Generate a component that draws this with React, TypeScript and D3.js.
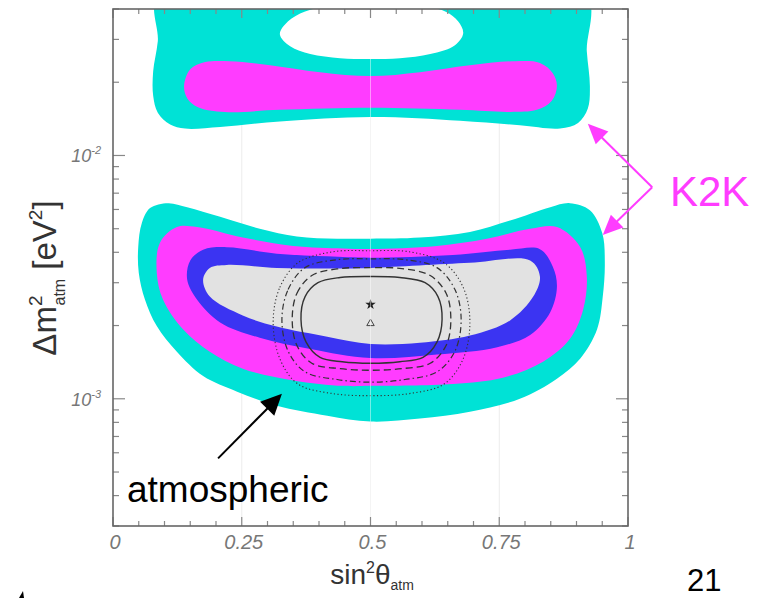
import React from "react";
import * as d3 from "d3";

// x: sin^2(theta_atm); y: Delta m^2_atm in units of 1e-3 eV^2
type P = [number, number];

const atmCyan: P[] = [
  [0.107, 6.37], [0.144, 6.13], [0.208, 5.6], [0.285, 5.0], [0.357, 4.65], [0.435, 4.55],
  [0.5, 4.55], [0.596, 4.6], [0.693, 4.85], [0.771, 5.4], [0.849, 6.13], [0.887, 6.37],
  [0.926, 5.96], [0.95, 4.8], [0.955, 3.62], [0.951, 2.63], [0.94, 1.93], [0.907, 1.46],
  [0.862, 1.21], [0.79, 1.0], [0.693, 0.885], [0.596, 0.829], [0.5, 0.806],
  [0.416, 0.852], [0.318, 0.936], [0.241, 1.07], [0.175, 1.24], [0.124, 1.56], [0.085, 1.99],
  [0.062, 2.56], [0.05, 3.3], [0.049, 4.21], [0.056, 5.28], [0.072, 6.08],
];

const atmMagenta: P[] = [
  [0.124, 5.08], [0.163, 5.08], [0.252, 4.6], [0.35, 4.25], [0.447, 4.15], [0.5, 4.13],
  [0.629, 4.25], [0.726, 4.55], [0.81, 5.0], [0.862, 5.08],
  [0.907, 4.21], [0.92, 3.18], [0.913, 2.33], [0.887, 1.76], [0.835, 1.42], [0.757, 1.22],
  [0.66, 1.15], [0.5, 1.13], [0.447, 1.13], [0.35, 1.19], [0.252, 1.33], [0.188, 1.56],
  [0.136, 1.93], [0.097, 2.56], [0.085, 3.3], [0.091, 4.37],
];

const atmBlue: P[] = [
  [0.175, 4.1], [0.221, 4.2], [0.318, 3.95], [0.416, 3.85], [0.5, 3.8], [0.66, 3.9],
  [0.771, 4.1], [0.829, 4.12], [0.854, 3.49], [0.862, 2.89], [0.849, 2.27], [0.81, 1.83],
  [0.746, 1.63], [0.629, 1.52], [0.5, 1.47], [0.383, 1.6], [0.285, 1.78], [0.208, 2.06],
  [0.163, 2.56], [0.144, 3.09], [0.15, 3.7],
];

const atmGray: P[] = [
  [0.175, 3.09], [0.188, 3.45], [0.221, 3.55], [0.318, 3.45], [0.416, 3.43], [0.5, 3.45],
  [0.693, 3.62], [0.81, 3.7], [0.829, 3.18], [0.816, 2.63], [0.771, 2.1], [0.693, 1.82],
  [0.596, 1.7], [0.5, 1.68], [0.416, 1.8], [0.318, 1.98], [0.252, 2.2], [0.188, 2.63],
];

const k2kCyan: P[] = [
  [0.091, 47.2], [0.087, 29.5], [0.078, 22.2], [0.078, 17.6], [0.087, 15.0], [0.111, 13.4],
  [0.14, 12.9], [0.208, 13.1], [0.324, 13.8], [0.5, 14.4], [0.674, 13.9], [0.79, 13.3],
  [0.868, 12.9], [0.903, 13.6], [0.922, 15.6], [0.926, 19.3], [0.92, 26.8], [0.915, 47.2],
];

const k2kHole: P[] = [
  [0.324, 31.5], [0.34, 35.6], [0.373, 39.1], [0.441, 41.7], [0.5, 42.1], [0.577, 41.7],
  [0.645, 39.1], [0.67, 35.6], [0.68, 31.8], [0.664, 28.4], [0.616, 26.1], [0.557, 25.1],
  [0.5, 24.9], [0.441, 25.1], [0.383, 26.1], [0.344, 28.1],
];

const k2kMagenta: P[] = [
  [0.138, 19.3], [0.15, 22.6], [0.179, 24.2], [0.227, 24.4], [0.305, 23.5], [0.402, 22.0],
  [0.5, 21.2], [0.596, 22.0], [0.693, 23.5], [0.781, 24.4], [0.829, 24.0], [0.854, 21.8],
  [0.862, 19.3], [0.852, 16.8], [0.823, 15.4], [0.771, 15.1], [0.674, 15.4], [0.5, 15.7],
  [0.324, 15.4], [0.217, 15.1], [0.165, 15.8], [0.144, 17.2],
];

const cSolid: P[] = [
  [0.365, 2.12], [0.373, 2.63], [0.398, 3.0], [0.441, 3.15], [0.5, 3.18], [0.557, 3.15],
  [0.606, 3.0], [0.631, 2.63], [0.639, 2.12], [0.629, 1.71], [0.602, 1.48], [0.557, 1.42],
  [0.5, 1.4], [0.445, 1.42], [0.402, 1.48], [0.375, 1.71],
];
const cDashed: P[] = [
  [0.348, 2.12], [0.357, 2.71], [0.386, 3.21], [0.441, 3.43], [0.5, 3.46], [0.561, 3.43],
  [0.616, 3.21], [0.647, 2.71], [0.656, 2.12], [0.647, 1.66], [0.616, 1.4], [0.561, 1.33],
  [0.5, 1.31], [0.441, 1.33], [0.386, 1.4], [0.357, 1.66],
];
const cDashDot: P[] = [
  [0.328, 2.12], [0.34, 2.81], [0.373, 3.46], [0.435, 3.73], [0.5, 3.76], [0.567, 3.73],
  [0.629, 3.46], [0.664, 2.81], [0.676, 2.12], [0.664, 1.57], [0.629, 1.29], [0.567, 1.2],
  [0.5, 1.17], [0.435, 1.2], [0.373, 1.29], [0.34, 1.57],
];
const cDotted: P[] = [
  [0.311, 2.08], [0.324, 2.87], [0.359, 3.62], [0.427, 4.02], [0.5, 4.06], [0.575, 4.02],
  [0.643, 3.62], [0.68, 2.87], [0.693, 2.08], [0.68, 1.46], [0.643, 1.15], [0.575, 1.05],
  [0.5, 1.03], [0.427, 1.05], [0.359, 1.15], [0.324, 1.46],
];

const bestFitStar: P = [0.5, 2.44];
const bestFitTriangle: P = [0.5, 2.04];

const xMajorTicks = [0, 0.25, 0.5, 0.75, 1];
const xTickLabels = ["0", "0.25", "0.5", "0.75", "1"];
const yMajorTicks = [1e-3, 1e-2];
const yTickExponents = ["-3", "-2"];

// annotation arrows (tail -> tip) in data coordinates
const atmArrow: [P, P] = [[0.204, 0.569], [0.328, 1.048]];
const k2kVertex: P = [1.047, 7.4];
const k2kTips: P[] = [[0.922, 13.5], [0.951, 4.71]];

const COL = {
  cyan: "#00e2d6",
  magenta: "#ff3cff",
  blue: "#3b34f2",
  gray: "#e2e2e2",
};

const L = 113, R = 628, T = 9, B = 526;

export default function App() {
  const x = d3.scaleLinear().domain([0, 1]).range([L, R]);
  const y = d3.scaleLog().domain([3e-4, 4e-2]).range([B, T]);
  const px = (d: P): [number, number] => [x(d[0]), y(d[1] * 1e-3)];
  const line = d3
    .line<P>()
    .x((d) => px(d)[0])
    .y((d) => px(d)[1])
    .curve(d3.curveCatmullRomClosed.alpha(0.5));

  const xMinor = d3.range(0, 1.0001, 0.05).filter((v) => Math.abs((v * 4) - Math.round(v * 4)) > 1e-6);
  const yMinor: number[] = [];
  for (const dec of [1e-4, 1e-3, 1e-2]) {
    for (let k = 2; k <= 9; k++) {
      const v = k * dec;
      if (v >= 3e-4 - 1e-12 && v <= 4e-2 + 1e-12) yMinor.push(v);
    }
  }

  const arrowHead = (tail: [number, number], tip: [number, number], len: number, hw: number) => {
    const dx = tip[0] - tail[0], dy = tip[1] - tail[1];
    const n = Math.hypot(dx, dy);
    const ux = dx / n, uy = dy / n;
    const bx = tip[0] - ux * len, by = tip[1] - uy * len;
    return `M${tip[0]},${tip[1]}L${bx - uy * hw},${by + ux * hw}L${bx + uy * hw},${by - ux * hw}Z`;
  };
  const shorten = (tail: [number, number], tip: [number, number], d: number): [number, number] => {
    const dx = tip[0] - tail[0], dy = tip[1] - tail[1];
    const n = Math.hypot(dx, dy);
    return [tip[0] - (dx / n) * d, tip[1] - (dy / n) * d];
  };

  const aTail = px(atmArrow[0]);
  const aTip = px(atmArrow[1]);
  const kV = px(k2kVertex);

  const star = d3.symbol(d3.symbolStar, 34)();
  const tri = d3.symbol(d3.symbolTriangle, 24)();

  const font = "'Liberation Sans', Arial, Helvetica, sans-serif";

  return (
    <svg width={758} height={598} style={{ position: "absolute", left: 0, top: 0, background: "#fff" }} fontFamily={font}>
      <defs>
        <clipPath id="plot">
          <rect x={L} y={T} width={R - L} height={B - T} />
        </clipPath>
      </defs>
      <rect x={0} y={0} width={758} height={598} fill="#fff" />
      {/* faint grid lines */}
      {[0.25, 0.5, 0.75].map((v) => (
        <line key={v} x1={x(v)} x2={x(v)} y1={T} y2={B} stroke="#ececec" strokeWidth={1} />
      ))}
      <g clipPath="url(#plot)">
        <path d={line(k2kCyan) || ""} fill={COL.cyan} />
        <path d={line(k2kHole) || ""} fill="#fff" />
        <path d={line(k2kMagenta) || ""} fill={COL.magenta} />
        <path d={line(atmCyan) || ""} fill={COL.cyan} />
        <path d={line(atmMagenta) || ""} fill={COL.magenta} />
        <path d={line(atmBlue) || ""} fill={COL.blue} />
        <path d={line(atmGray) || ""} fill={COL.gray} />
        <path d={line(cDotted) || ""} fill="none" stroke="#333" strokeWidth={1.1} strokeDasharray="1.2,2.4" />
        <path d={line(cDashDot) || ""} fill="none" stroke="#333" strokeWidth={1.2} strokeDasharray="6,3,1.5,3" />
        <path d={line(cDashed) || ""} fill="none" stroke="#333" strokeWidth={1.3} strokeDasharray="7,4" />
        <path d={line(cSolid) || ""} fill="none" stroke="#333" strokeWidth={1.4} />
        <path d={star || ""} transform={`translate(${px(bestFitStar)[0]},${px(bestFitStar)[1]})`} fill="#222" />
        <path d={tri || ""} transform={`translate(${px(bestFitTriangle)[0]},${px(bestFitTriangle)[1]})`} fill="none" stroke="#444" strokeWidth={1} />
        <line x1={x(0.5)} x2={x(0.5)} y1={T} y2={B} stroke="#ffffff" strokeOpacity={0.45} strokeWidth={1} />
      </g>
      {/* ticks */}
      <g stroke="#888" strokeWidth={1.2}>
        {xMajorTicks.map((v) => (
          <g key={"xm" + v}>
            <line x1={x(v)} x2={x(v)} y1={B} y2={B - 9} />
            <line x1={x(v)} x2={x(v)} y1={T} y2={T + 9} />
          </g>
        ))}
        {xMinor.map((v) => (
          <g key={"xn" + v}>
            <line x1={x(v)} x2={x(v)} y1={B} y2={B - 5} />
            <line x1={x(v)} x2={x(v)} y1={T} y2={T + 5} />
          </g>
        ))}
        {yMajorTicks.map((v) => (
          <g key={"ym" + v}>
            <line x1={L} x2={L + 12} y1={y(v)} y2={y(v)} />
            <line x1={R} x2={R - 12} y1={y(v)} y2={y(v)} />
          </g>
        ))}
        {yMinor.map((v) => (
          <g key={"yn" + v}>
            <line x1={L} x2={L + 6} y1={y(v)} y2={y(v)} />
            <line x1={R} x2={R - 6} y1={y(v)} y2={y(v)} />
          </g>
        ))}
      </g>
      <rect x={L} y={T} width={R - L} height={B - T} fill="none" stroke="#666" strokeWidth={1.6} />
      {/* tick labels */}
      <g fill="#777" fontStyle="italic" fontSize={20}>
        {xMajorTicks.map((v, i) => (
          <text key={"xl" + v} x={x(v) + 2} y={549} textAnchor="middle">
            {xTickLabels[i]}
          </text>
        ))}
        {yMajorTicks.map((v, i) => (
          <text key={"yl" + v} x={101} y={y(v) + 7} textAnchor="end" fontSize={18}>
            10<tspan dy={-8} fontSize={11}>{yTickExponents[i]}</tspan>
          </text>
        ))}
      </g>
      {/* axis titles */}
      <text x={372} y={584} textAnchor="middle" fontSize={28} fill="#333">
        sin<tspan dy={-11} fontSize={16}>2</tspan>
        <tspan dy={11}>θ</tspan>
        <tspan dy={6} fontSize={14}>atm</tspan>
      </text>
      <text transform="translate(56,278) rotate(-90)" textAnchor="middle" fontSize={33} fill="#333">
        Δm<tspan dy={-14} fontSize={19}>2</tspan>
        <tspan dx={-10} dy={23} fontSize={16}>atm</tspan>
        <tspan dy={-9}> [eV</tspan>
        <tspan dy={-14} fontSize={19}>2</tspan>
        <tspan dy={14}>]</tspan>
      </text>
      {/* atmospheric annotation */}
      <line x1={aTail[0]} y1={aTail[1]} x2={shorten(aTail, aTip, 16)[0]} y2={shorten(aTail, aTip, 16)[1]} stroke="#000" strokeWidth={2} />
      <path d={arrowHead(aTail, aTip, 21, 10)} fill="#000" />
      <text x={127} y={502} fontSize={37} fill="#000">atmospheric</text>
      {/* K2K annotation */}
      {k2kTips.map((t, i) => {
        const tip = px(t);
        const s = shorten(kV, tip, 16);
        return (
          <g key={"k" + i}>
            <line x1={kV[0]} y1={kV[1]} x2={s[0]} y2={s[1]} stroke={COL.magenta} strokeWidth={2} />
            <path d={arrowHead(kV, tip, 20, 9)} fill={COL.magenta} />
          </g>
        );
      })}
      <text x={670} y={206} fontSize={42} fill={COL.magenta}>K2K</text>
      <text x={687} y={591} fontSize={31} fill="#000">21</text>
      <path d="M19,598L23,591L24,598Z" fill="#000" />
    </svg>
  );
}
